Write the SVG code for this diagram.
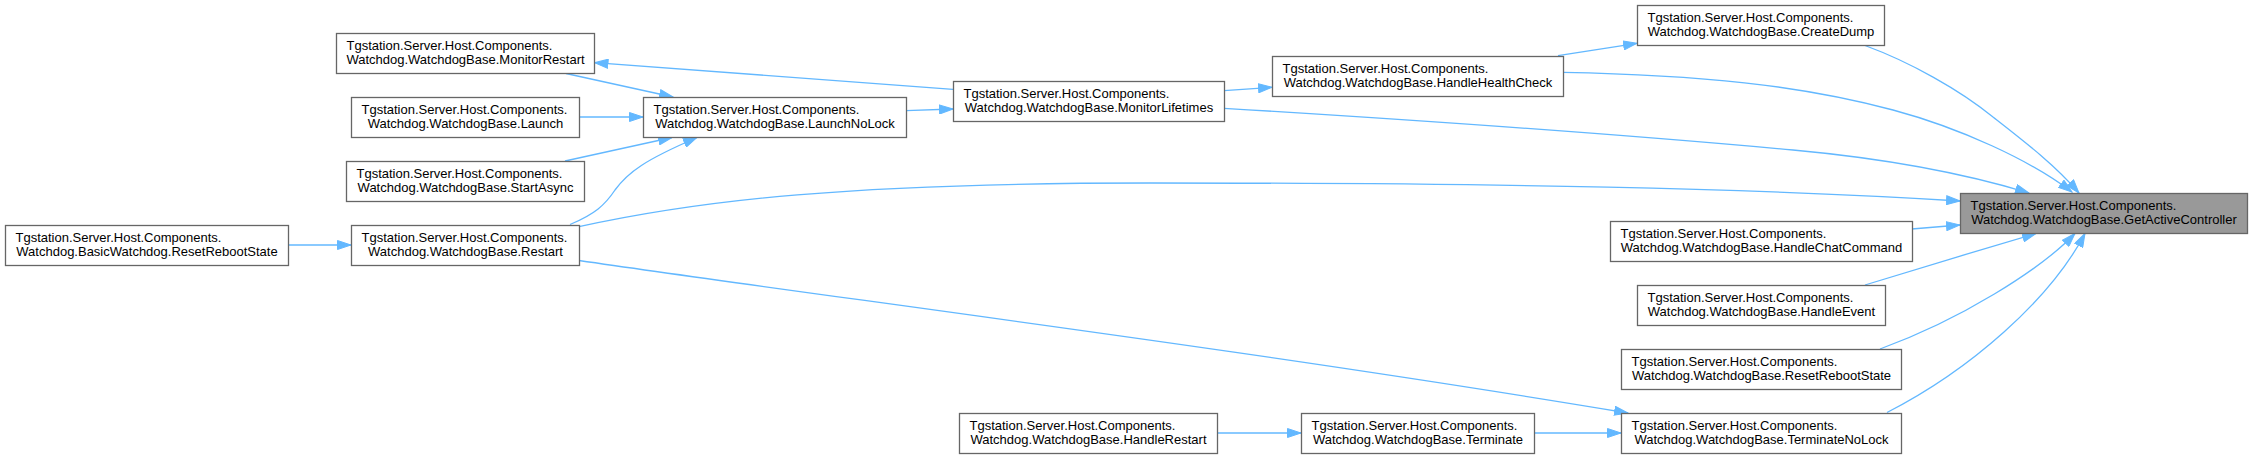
<svg xmlns="http://www.w3.org/2000/svg" width="2252" height="459" viewBox="0 0 2252 459">
<defs>
<style>
.node rect{fill:#ffffff;stroke:#666666;stroke-width:1.3}
.node.hl rect{fill:#999999}
.node text{font-family:"Liberation Sans",Arial,sans-serif;font-size:13px;fill:#000000}
.node text.l1{text-anchor:start}
.node text.l2{text-anchor:middle}
#edges path{fill:none;stroke:#63b8ff;stroke-width:1.3;marker-end:url(#ah)}
</style>
<marker id="ah" markerWidth="15" markerHeight="10" refX="14" refY="5" orient="auto" markerUnits="userSpaceOnUse">
<path d="M0.5,0.5 L14,5 L0.5,9.5 z" fill="#63b8ff" stroke="#63b8ff" stroke-width="1"/>
</marker>
</defs>
<rect x="0" y="0" width="2252" height="459" fill="#ffffff"/>
<g id="edges">
<path d="M288,245 L351,245"/>
<path d="M566,73.5 L673,97"/>
<path d="M579,117 L643,117"/>
<path d="M565,161 L672,137.5"/>
<path d="M570,224.5 C595,214 605,205 615,190 C628,172 645,160 697,137.5"/>
<path d="M906,110.7 L953,109"/>
<path d="M953,89.3 L594.5,62.7"/>
<path d="M1224,90.7 L1272,87.3"/>
<path d="M1558,55.7 L1637,43.3"/>
<path d="M1865,45.5 C1910,62 1960,90 1993,117 C2025,142 2055,165 2079,193"/>
<path d="M1562.7,72.3 C1700,75 1800,85 1893,110 C1960,128 2030,160 2072,192"/>
<path d="M1224,108.3 C1450,122 1650,137 1793,150 C1880,158 1960,172 2029,193"/>
<path d="M579,226.7 C700,200 850,183 1150,183 C1500,183 1750,188 1960,201"/>
<path d="M1911.7,229 L1960,225"/>
<path d="M1865,285 C1920,268 1980,250 2036,233.5"/>
<path d="M1880,349 C1960,320 2040,270 2075,233.5"/>
<path d="M1887,412.5 C1970,370 2050,300 2085,233.5"/>
<path d="M579,260.5 C850,300 1250,350 1628,413"/>
<path d="M1534,433 L1621,433"/>
<path d="M1217,433 L1301,433"/>
</g>
<g id="n_gac" class="node hl"><rect x="1960.5" y="193.5" width="287" height="40"/><text class="l1" x="1970.5" y="210">Tgstation.Server.Host.Components.</text><text class="l2" x="2104" y="223.5">Watchdog.WatchdogBase.GetActiveController</text></g>
<g id="n_createdump" class="node"><rect x="1637.5" y="5.5" width="247" height="40"/><text class="l1" x="1647.5" y="22">Tgstation.Server.Host.Components.</text><text class="l2" x="1761" y="35.5">Watchdog.WatchdogBase.CreateDump</text></g>
<g id="n_hhc" class="node"><rect x="1272.5" y="56.5" width="291" height="40"/><text class="l1" x="1282.5" y="73">Tgstation.Server.Host.Components.</text><text class="l2" x="1418" y="86.5">Watchdog.WatchdogBase.HandleHealthCheck</text></g>
<g id="n_ml" class="node"><rect x="953.5" y="81.5" width="271" height="40"/><text class="l1" x="963.5" y="98">Tgstation.Server.Host.Components.</text><text class="l2" x="1089" y="111.5">Watchdog.WatchdogBase.MonitorLifetimes</text></g>
<g id="n_lnl" class="node"><rect x="643.5" y="97.5" width="263" height="40"/><text class="l1" x="653.5" y="114">Tgstation.Server.Host.Components.</text><text class="l2" x="775" y="127.5">Watchdog.WatchdogBase.LaunchNoLock</text></g>
<g id="n_mr" class="node"><rect x="336.5" y="33.5" width="258" height="40"/><text class="l1" x="346.5" y="50">Tgstation.Server.Host.Components.</text><text class="l2" x="465.5" y="63.5">Watchdog.WatchdogBase.MonitorRestart</text></g>
<g id="n_launch" class="node"><rect x="351.5" y="97.5" width="228" height="40"/><text class="l1" x="361.5" y="114">Tgstation.Server.Host.Components.</text><text class="l2" x="465.5" y="127.5">Watchdog.WatchdogBase.Launch</text></g>
<g id="n_sa" class="node"><rect x="346.5" y="161.5" width="238" height="40"/><text class="l1" x="356.5" y="178">Tgstation.Server.Host.Components.</text><text class="l2" x="465.5" y="191.5">Watchdog.WatchdogBase.StartAsync</text></g>
<g id="n_restart" class="node"><rect x="351.5" y="225.5" width="228" height="40"/><text class="l1" x="361.5" y="242">Tgstation.Server.Host.Components.</text><text class="l2" x="465.5" y="255.5">Watchdog.WatchdogBase.Restart</text></g>
<g id="n_basic" class="node"><rect x="5.5" y="225.5" width="283" height="40"/><text class="l1" x="15.5" y="242">Tgstation.Server.Host.Components.</text><text class="l2" x="147" y="255.5">Watchdog.BasicWatchdog.ResetRebootState</text></g>
<g id="n_hcc" class="node"><rect x="1610.5" y="221.5" width="302" height="40"/><text class="l1" x="1620.5" y="238">Tgstation.Server.Host.Components.</text><text class="l2" x="1761.5" y="251.5">Watchdog.WatchdogBase.HandleChatCommand</text></g>
<g id="n_he" class="node"><rect x="1637.5" y="285.5" width="248" height="40"/><text class="l1" x="1647.5" y="302">Tgstation.Server.Host.Components.</text><text class="l2" x="1761.5" y="315.5">Watchdog.WatchdogBase.HandleEvent</text></g>
<g id="n_rrs" class="node"><rect x="1621.5" y="349.5" width="280" height="40"/><text class="l1" x="1631.5" y="366">Tgstation.Server.Host.Components.</text><text class="l2" x="1761.5" y="379.5">Watchdog.WatchdogBase.ResetRebootState</text></g>
<g id="n_tnl" class="node"><rect x="1621.5" y="413.5" width="280" height="40"/><text class="l1" x="1631.5" y="430">Tgstation.Server.Host.Components.</text><text class="l2" x="1761.5" y="443.5">Watchdog.WatchdogBase.TerminateNoLock</text></g>
<g id="n_term" class="node"><rect x="1301.5" y="413.5" width="233" height="40"/><text class="l1" x="1311.5" y="430">Tgstation.Server.Host.Components.</text><text class="l2" x="1418" y="443.5">Watchdog.WatchdogBase.Terminate</text></g>
<g id="n_hr" class="node"><rect x="959.5" y="413.5" width="258" height="40"/><text class="l1" x="969.5" y="430">Tgstation.Server.Host.Components.</text><text class="l2" x="1088.5" y="443.5">Watchdog.WatchdogBase.HandleRestart</text></g>
</svg>
